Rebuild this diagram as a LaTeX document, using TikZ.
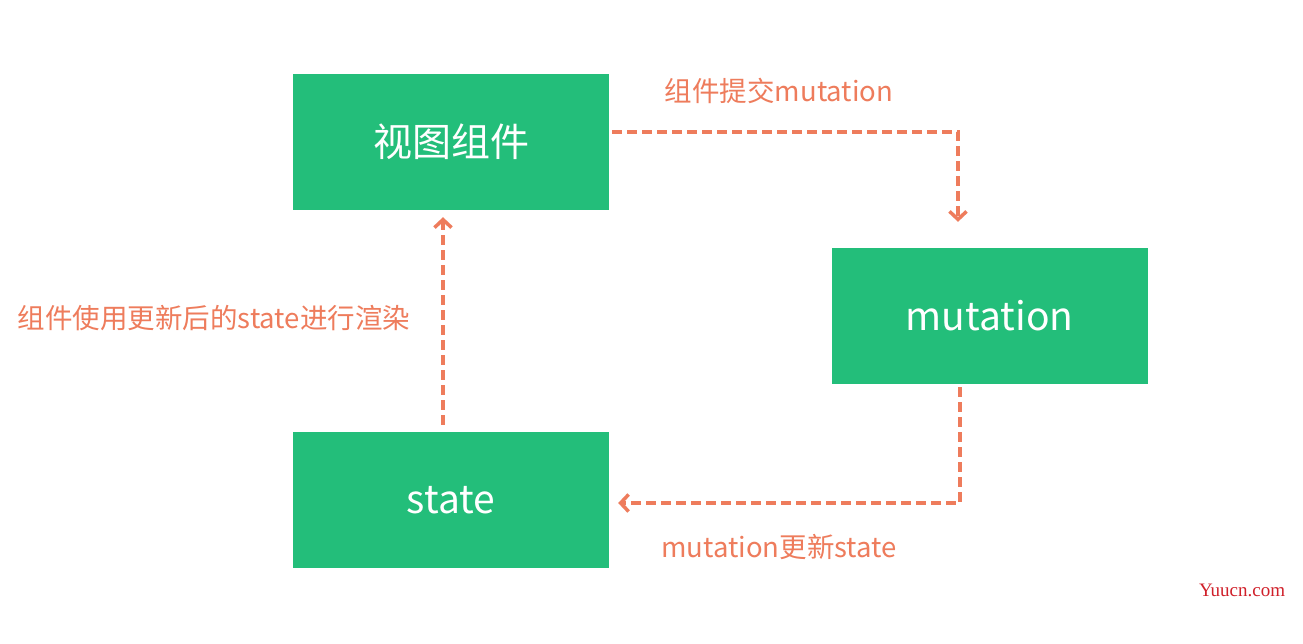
\documentclass[tikz,border=0pt]{standalone}
\usepackage{fontspec}
\setmainfont{Liberation Serif}
\newfontfamily\cjk{Noto Sans CJK SC}
\usetikzlibrary{arrows.meta}
\definecolor{boxgreen}{RGB}{35,190,122}
\definecolor{arrorange}{RGB}{238,124,92}
\definecolor{wmred}{RGB}{208,32,42}
\tikzset{
  gbox/.style={fill=boxgreen, draw=none, minimum width=316pt, minimum height=136pt, inner sep=0pt, text=white, font=\cjk\fontsize{39}{41}\selectfont},
  flow/.style={draw=arrorange, line width=3.5pt, dash pattern=on 10pt off 5pt, -{Straight Barb[length=8pt,width=17pt,line width=3.5pt]}},
  lbl/.style={text=arrorange, font=\cjk\fontsize{27.5}{29}\selectfont, inner sep=0pt}
}
\begin{document}
\begin{tikzpicture}[x=1pt,y=-1pt]
\useasboundingbox (0,0) rectangle (1303,644);
\fill[white] (0,0) rectangle (1303,644);
\node[gbox] (view) at (451,142) {视图组件};
\node[gbox] (mut) at (989.5,316) {mutation};
\node[gbox] (state) at (451,500) {state};
\coordinate (c1) at (958,132);
\coordinate (c2) at (960,503);
\coordinate (c3) at (443,300);
\draw[flow] (view.east |- c1) ++(3,0) -- (c1) -- ([yshift=26]mut.north -| c1);
\draw[flow] ([yshift=-3]mut.south -| c2) -- (c2) -- ([xshift=9]state.east |- c2);
\draw[flow] ([yshift=7]state.north -| c3) -- ([yshift=-7]view.south -| c3);
\node[lbl] (l1) at (779,91) {组件提交mutation};
\node[lbl] (l2) at (779,547) {mutation更新state};
\node[lbl] (l3) at (214,318) {组件使用更新后的state进行渲染};
\node[text=wmred, font=\fontsize{19}{20}\selectfont, inner sep=0pt] (wm) at (1242,590) {Yuucn.com};
\end{tikzpicture}
\end{document}
